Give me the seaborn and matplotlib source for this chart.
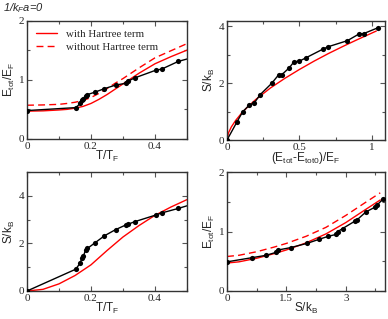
import numpy as np
import pandas as pd
import matplotlib
matplotlib.use("Agg")
import matplotlib.pyplot as plt
from matplotlib.ticker import MultipleLocator
import seaborn as sns

# ---------------- data ----------------
# panel (a): E_tot/E_F vs T/T_F
t_exp = [0.0, 0.153, 0.166, 0.172, 0.176, 0.183, 0.189, 0.212, 0.242, 0.277,
         0.308, 0.317, 0.336, 0.402, 0.421, 0.473, 0.5]
e_exp = [0.48, 0.53, 0.60, 0.65, 0.68, 0.73, 0.75, 0.79, 0.85, 0.91,
         0.94, 0.98, 1.03, 1.16, 1.18, 1.31, 1.35]
t_th = [0.0, 0.05, 0.1, 0.125, 0.15, 0.175, 0.2, 0.225, 0.25, 0.275, 0.3,
        0.35, 0.4, 0.45, 0.5]
e_hartree = [0.47, 0.475, 0.49, 0.50, 0.52, 0.55, 0.60, 0.67, 0.75, 0.84, 0.93,
             1.11, 1.27, 1.39, 1.50]
e_nohartree = [0.57, 0.575, 0.585, 0.60, 0.62, 0.65, 0.70, 0.77, 0.85, 0.94, 1.02,
               1.20, 1.37, 1.49, 1.61]

# panel (b): S/k_B vs (E_tot - E_tot0)/E_F
de_exp = [0.0, 0.067, 0.108, 0.152, 0.189, 0.228, 0.308, 0.356, 0.377, 0.43,
          0.462, 0.499, 0.545, 0.664, 0.699, 0.83, 0.912, 0.943, 1.039]
s_exp_b = [0.0, 0.62, 0.99, 1.22, 1.31, 1.59, 1.99, 2.29, 2.29, 2.54,
           2.75, 2.77, 2.89, 3.20, 3.28, 3.49, 3.73, 3.74, 3.94]
de_th = [0.0, 0.01, 0.03, 0.06, 0.1, 0.15, 0.2, 0.3, 0.4, 0.5, 0.6, 0.7, 0.8, 0.9, 1.03]
s_th_b = [0.0, 0.25, 0.46, 0.69, 0.94, 1.20, 1.43, 1.83, 2.17, 2.48, 2.77, 3.04,
          3.29, 3.53, 3.83]

# panel (c): S/k_B vs T/T_F
s_exp_c = [0.0, 0.92, 1.18, 1.39, 1.45, 1.73, 1.79, 2.02, 2.32, 2.58,
           2.77, 2.81, 2.91, 3.19, 3.28, 3.47, 3.58]
t_th_c = [0.0, 0.05, 0.1, 0.15, 0.2, 0.25, 0.3, 0.35, 0.4, 0.45, 0.5]
s_th_c = [0.0, 0.07, 0.30, 0.65, 1.10, 1.70, 2.27, 2.75, 3.18, 3.53, 3.84]

# panel (d): E_tot/E_F vs S/k_B
s_exp_d = [0.0, 0.63, 0.99, 1.24, 1.30, 1.61, 2.02, 2.33, 2.56, 2.75, 2.80,
           2.92, 3.22, 3.29, 3.51, 3.74, 3.78, 3.95]
e_exp_d = [0.49, 0.56, 0.60, 0.65, 0.69, 0.73, 0.80, 0.87, 0.92, 0.95, 1.00,
           1.05, 1.17, 1.20, 1.33, 1.41, 1.44, 1.55]
s_th_d = [0.0, 0.3, 0.75, 1.2, 1.5, 2.0, 2.5, 3.0, 3.5, 3.87]
e_th_d = [0.47, 0.49, 0.55, 0.63, 0.69, 0.81, 0.96, 1.15, 1.37, 1.53]
e_th_d_nh = [0.58, 0.60, 0.66, 0.74, 0.80, 0.92, 1.07, 1.27, 1.49, 1.65]

# ---------------- style ----------------
sns.set_theme(style="ticks")
plt.rcParams["font.family"] = ["Liberation Serif", "DejaVu Serif"]
plt.rcParams["mathtext.fontset"] = "custom"
plt.rcParams["mathtext.rm"] = "Liberation Sans"
plt.rcParams["mathtext.it"] = "Liberation Sans:italic"
plt.rcParams["mathtext.bf"] = "Liberation Sans:bold"

W, H = 388, 319
fig = plt.figure(figsize=(W / 100, H / 100), dpi=100)

def add_ax(l, t, r, b):
    return fig.add_axes([l / W, 1 - b / H, (r - l) / W, (b - t) / H])

axA = add_ax(27, 20.5, 187, 139)
axB = add_ax(227, 20.5, 385, 140)
axC = add_ax(27, 172, 187, 291)
axD = add_ax(227, 172, 385, 291)

RED = "#ff0000"
LW = 1.0
MS = 14

def style(ax, xmaj, xmin, ymaj, ymin):
    ax.xaxis.set_major_locator(MultipleLocator(xmaj))
    ax.xaxis.set_minor_locator(MultipleLocator(xmin))
    ax.yaxis.set_major_locator(MultipleLocator(ymaj))
    ax.yaxis.set_minor_locator(MultipleLocator(ymin))
    ax.tick_params(which="both", direction="in", top=True, right=True,
                   labelsize=8, pad=2, color="#555555")
    ax.tick_params(which="major", length=3.5, width=0.8)
    ax.tick_params(which="minor", length=2, width=0.8)
    for s in ax.spines.values():
        s.set_linewidth(1.0)
        s.set_color("#333333")
    ax.set_xlabel(ax.get_xlabel(), fontsize=8.5, labelpad=-1)
    ax.set_ylabel(ax.get_ylabel(), fontsize=8.5, labelpad=1)

def fmt(v, p):
    return ("%g" % v)

# ---- panel A ----
sns.lineplot(x=t_th, y=e_hartree, ax=axA, color=RED, lw=LW, sort=False,
             estimator=None, label="with Hartree term")
sns.lineplot(x=t_th, y=e_nohartree, ax=axA, color=RED, lw=LW, sort=False,
             estimator=None, label="without Hartree term", linestyle=(0, (5, 3)))
sns.lineplot(x=t_exp, y=e_exp, ax=axA, color="black", lw=LW, sort=False,
             estimator=None, legend=False)
sns.scatterplot(x=t_exp[:-1], y=e_exp[:-1], ax=axA, color="black", s=MS,
                edgecolor="black", linewidth=0, legend=False, zorder=5)
axA.set_xlim(0, 0.5)
axA.set_ylim(0, 2)
axA.set_xlabel(r"$\mathrm{T/T_F}$")
axA.set_ylabel(r"$\mathrm{E_{tot}/E_F}$")
style(axA, 0.2, 0.1, 1, 0.5)
leg = axA.legend(loc="upper left", frameon=False, fontsize=7.8,
                 handlelength=2.0, handletextpad=0.8, borderaxespad=0.5,
                 borderpad=0.3, labelspacing=0.3)
fig.text(3 / W, 1 - 8 / H, r"1/$k_F$a=0", fontsize=8, va="center", ha="left",
         family="Liberation Sans", style="italic")

# ---- panel B ----
sns.lineplot(x=de_th, y=s_th_b, ax=axB, color=RED, lw=LW, sort=False,
             estimator=None, legend=False)
sns.lineplot(x=de_exp, y=s_exp_b, ax=axB, color="black", lw=LW, sort=False,
             estimator=None, legend=False)
sns.scatterplot(x=de_exp, y=s_exp_b, ax=axB, color="black", s=MS,
                linewidth=0, legend=False, zorder=5)
axB.set_xlim(0, 1.09)
axB.set_ylim(0, 4.2)
axB.set_xlabel(r"$\mathrm{(E_{tot}\text{-}E_{tot0})/E_F}$")
axB.set_ylabel(r"$\mathrm{S/k_B}$")
style(axB, 0.5, 0.25, 2, 1)

# ---- panel C ----
sns.lineplot(x=t_th_c, y=s_th_c, ax=axC, color=RED, lw=LW, sort=False,
             estimator=None, legend=False)
sns.lineplot(x=t_exp, y=s_exp_c, ax=axC, color="black", lw=LW, sort=False,
             estimator=None, legend=False)
sns.scatterplot(x=t_exp[:-1], y=s_exp_c[:-1], ax=axC, color="black", s=MS,
                linewidth=0, legend=False, zorder=5)
axC.set_xlim(0, 0.5)
axC.set_ylim(0, 5)
axC.set_xlabel(r"$\mathrm{T/T_F}$")
axC.set_ylabel(r"$\mathrm{S/k_B}$")
style(axC, 0.2, 0.1, 2, 1)

# ---- panel D ----
sns.lineplot(x=s_th_d, y=e_th_d, ax=axD, color=RED, lw=LW, sort=False,
             estimator=None, legend=False)
sns.lineplot(x=s_th_d, y=e_th_d_nh, ax=axD, color=RED, lw=LW, sort=False,
             estimator=None, legend=False, linestyle=(0, (5, 3)))
sns.lineplot(x=s_exp_d, y=e_exp_d, ax=axD, color="black", lw=LW, sort=False,
             estimator=None, legend=False)
sns.scatterplot(x=s_exp_d, y=e_exp_d, ax=axD, color="black", s=MS,
                linewidth=0, legend=False, zorder=5)
axD.set_xlim(0, 3.99)
axD.set_ylim(0, 2)
axD.set_xlabel(r"$\mathrm{S/k_B}$")
axD.set_ylabel(r"$\mathrm{E_{tot}/E_F}$")
style(axD, 1.5, 0.75, 1, 0.5)

for ax in (axA, axB, axC, axD):
    ax.xaxis.set_major_formatter(matplotlib.ticker.FuncFormatter(fmt))
    ax.yaxis.set_major_formatter(matplotlib.ticker.FuncFormatter(fmt))

fig.savefig("out.png", dpi=100)
